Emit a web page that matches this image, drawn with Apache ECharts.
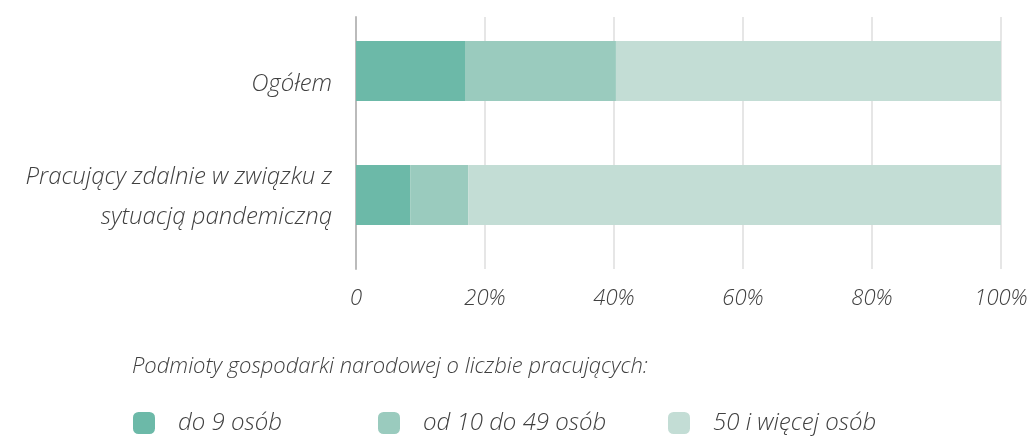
<!DOCTYPE html>
<html style="height: 100%">
<head>
    <meta charset="utf-8">
    <title>bar</title>
    <script type="text/javascript" src="https://cdn.jsdelivr.net/npm/echarts@6/dist/echarts.min.js"></script>
    <style>
        html, body { margin: 0; padding: 0; height: 100%; background: #fff; }
        #chart { width: 1034px; height: 437px; }
    </style>
</head>
<body>
    <div id="chart"></div>
    <script type="text/javascript">
        var categories = ['Ogółem', 'Pracujący zdalnie w związku z\nsytuacją pandemiczną'];
        var seriesNames = ['do 9 osób', 'od 10 do 49 osób', '50 i więcej osób'];
        var small = [16.9, 8.4];   // do 9 osób
        var medium = [23.4, 9.0];  // od 10 do 49 osób
        var large = [59.7, 82.6];  // 50 i więcej osób
        var ticks = [0, 20, 40, 60, 80, 100];

        var colors = ['#6cb9a8', '#9acbbe', '#c3ddd5'];
        var font = "'Open Sans', sans-serif";
        var txt = '#404040';

        var chart = echarts.init(document.getElementById('chart'));

        function legendItem(i, left) {
            return {
                data: [seriesNames[i]],
                left: left,
                top: 406,
                icon: 'roundRect',
                itemWidth: 22,
                itemHeight: 22,
                selectedMode: false,
                textStyle: {
                    fontFamily: font, fontStyle: 'italic', fontWeight: 300,
                    fontSize: 24, color: txt, padding: [0, 0, 0, 18]
                }
            };
        }

        var option = {
            animation: false,
            color: colors,
            title: {
                text: 'Podmioty gospodarki narodowej o liczbie pracujących:',
                left: 127,
                top: 351,
                textStyle: {
                    fontFamily: font, fontStyle: 'italic', fontWeight: 300,
                    fontSize: 22, color: txt
                }
            },
            legend: [legendItem(0, 128), legendItem(1, 373), legendItem(2, 663)],
            grid: [
                { left: 356, right: 33, top: 17, height: 252 },
                { left: 356, right: 33, top: 9, height: 248 }
            ],
            xAxis: [{
                gridIndex: 0,
                type: 'value',
                min: ticks[0],
                max: ticks[ticks.length - 1],
                interval: 20,
                axisLine: { show: false },
                axisTick: { show: false },
                splitLine: { lineStyle: { color: '#e6e6e6', width: 2 } },
                axisLabel: {
                    margin: 19,
                    fontFamily: font, fontStyle: 'italic', fontWeight: 300,
                    fontSize: 22, color: txt,
                    formatter: function (v) { return v === 0 ? '0' : v + '%'; }
                }
            }, {
                gridIndex: 1,
                type: 'value',
                min: 0,
                max: 100,
                show: false
            }],
            yAxis: [{
                gridIndex: 0,
                type: 'category',
                data: categories,
                inverse: true,
                axisLine: { lineStyle: { color: '#bbbbbb', width: 2 } },
                axisTick: { show: false },
                axisLabel: { show: false }
            }, {
                gridIndex: 1,
                type: 'category',
                data: categories,
                inverse: true,
                axisLine: { show: false },
                axisTick: { show: false },
                axisLabel: {
                    margin: 24,
                    formatter: function (v, i) {
                        return i === 0 ? '{a|' + v + '}' : v.split('\n').map(function (s) { return '{b|' + s + '}'; }).join('\n');
                    },
                    rich: {
                        a: {
                            fontFamily: font, fontStyle: 'italic', fontWeight: 300,
                            fontSize: 24, color: txt, padding: [26, 0, 0, 0]
                        },
                        b: {
                            fontFamily: font, fontStyle: 'italic', fontWeight: 300,
                            fontSize: 24, color: txt, lineHeight: 40, padding: [4, 0, 0, 0]
                        }
                    }
                }
            }],
            series: [{
                name: seriesNames[0], type: 'bar', stack: 'all', barWidth: 60,
                xAxisIndex: 1, yAxisIndex: 1, data: small
            }, {
                name: seriesNames[1], type: 'bar', stack: 'all', barWidth: 60,
                xAxisIndex: 1, yAxisIndex: 1, data: medium
            }, {
                name: seriesNames[2], type: 'bar', stack: 'all', barWidth: 60,
                xAxisIndex: 1, yAxisIndex: 1, data: large
            }]
        };

        chart.setOption(option);
    </script>
</body>
</html>
